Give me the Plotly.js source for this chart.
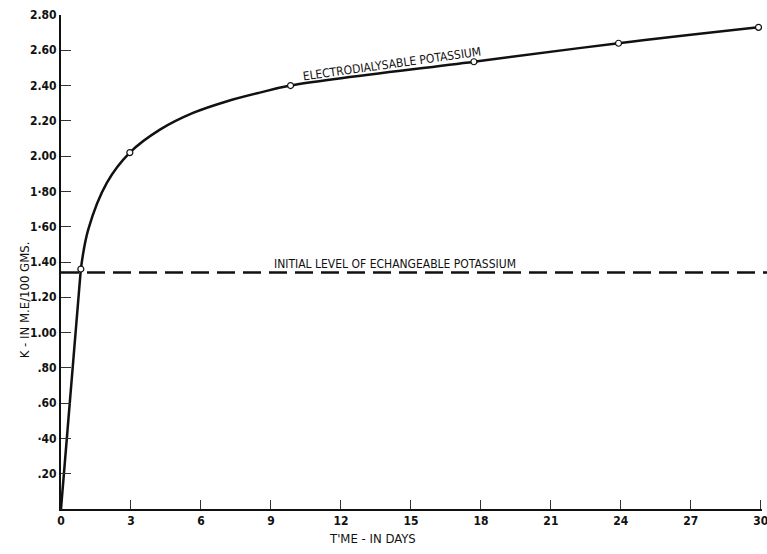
<!DOCTYPE html>
<html>
<head>
<meta charset="utf-8">
<script src="https://cdn.plot.ly/plotly-3.0.1.min.js"></script>
<style>html,body{margin:0;padding:0;background:#fff;}#chart{width:767px;height:554px;}</style>
</head>
<body>
<div id="chart"></div>
<script>
// Drawn curve
var curveDays = [0, 0.85, 1.17, 1.97, 2.95, 4.24, 5.66, 7.09, 8.52, 9.84, 17.7, 23.9, 29.9];
var curveK    = [0, 1.36, 1.585, 1.85, 2.02, 2.15, 2.245, 2.31, 2.36, 2.40, 2.535, 2.64, 2.73];
// Observed (circled) points
var pointDays = [0.85, 2.95, 9.84, 17.7, 23.9, 29.9];
var pointK    = [1.36, 2.02, 2.40, 2.535, 2.64, 2.73];
// Initial exchangeable level
var initialLevel = 1.34;
// Tick labels
var xTickVals = [0, 3, 6, 9, 12, 15, 18, 21, 24, 27, 30];
var xTickText = ["0", "3", "6", "9", "12", "15", "18", "21", "24", "27", "30"];
var yTickVals = [0.2, 0.4, 0.6, 0.8, 1.0, 1.2, 1.4, 1.6, 1.8, 2.0, 2.2, 2.4, 2.6, 2.8];
var yTickText = [".20", "·40", ".60", ".80", "1.00", "1.20", "1.40", "1·60", "1·80", "2.00", "2.20", "2.40", "2.60", "2.80"];

var font = "DejaVu Sans Condensed, DejaVu Sans, sans-serif";
var tickFont = {family: font, size: 12, color: '#111', weight: 'bold'};

var traces = [
  {x: curveDays.slice(0, 2), y: curveK.slice(0, 2), mode: 'lines', line: {color: '#111', width: 2.5}, hoverinfo: 'skip'},
  {x: curveDays.slice(1), y: curveK.slice(1), mode: 'lines', line: {color: '#111', width: 2.5, shape: 'spline', smoothing: 1}, hoverinfo: 'skip'},
  {x: pointDays, y: pointK, mode: 'markers', marker: {symbol: 'circle', size: 6, color: '#fff', line: {color: '#111', width: 1.2}}}
];

var layout = {
  width: 767, height: 554,
  margin: {l: 61, r: 5, t: 15, b: 45},
  paper_bgcolor: '#fff', plot_bgcolor: '#fff',
  showlegend: false,
  font: {family: font, color: '#111', size: 12},
  xaxis: {
    range: [0, 30.05], showgrid: false, zeroline: false,
    showline: true, linecolor: '#111', linewidth: 1.5,
    tickmode: 'array', tickvals: xTickVals, ticktext: xTickText,
    ticks: 'inside', ticklen: 9, tickwidth: 1, tickcolor: '#333',
    tickfont: tickFont, ticklabeloverflow: 'allow'
  },
  yaxis: {
    range: [0, 2.8], showgrid: false, zeroline: false,
    showline: true, linecolor: '#111', linewidth: 2,
    tickmode: 'array', tickvals: yTickVals, ticktext: yTickText,
    ticks: 'inside', ticklen: 10, tickwidth: 1, tickcolor: '#333',
    tickfont: tickFont, ticklabeloverflow: 'allow'
  },
  shapes: [
    {type: 'line', xref: 'paper', yref: 'y', x0: 0, x1: 1.01, y0: initialLevel, y1: initialLevel,
     line: {color: '#111', width: 2.5, dash: '18px,8px'}}
  ],
  annotations: [
    {x: 14.2, y: 2.52, xref: 'x', yref: 'y', text: 'ELECTRODIALYSABLE POTASSIUM', showarrow: false,
     textangle: -8, font: {family: font, size: 12, color: '#111'}},
    {x: 14.3, y: initialLevel + 0.05, xref: 'x', yref: 'y', text: 'INITIAL LEVEL OF ECHANGEABLE POTASSIUM', showarrow: false,
     font: {family: font, size: 12, color: '#111'}},
    {x: 0.444, y: -0.079, xref: 'paper', yref: 'paper', text: "T'ME - IN DAYS", showarrow: false,
     font: {family: font, size: 13, color: '#111'}},
    {x: -0.066, y: 0.423, xref: 'paper', yref: 'paper', text: "K - IN M.E/100 GMS.", showarrow: false,
     textangle: -90, font: {family: font, size: 13, color: '#111'}}
  ]
};

Plotly.newPlot('chart', traces, layout, {displayModeBar: false, staticPlot: true});
</script>
</body>
</html>
